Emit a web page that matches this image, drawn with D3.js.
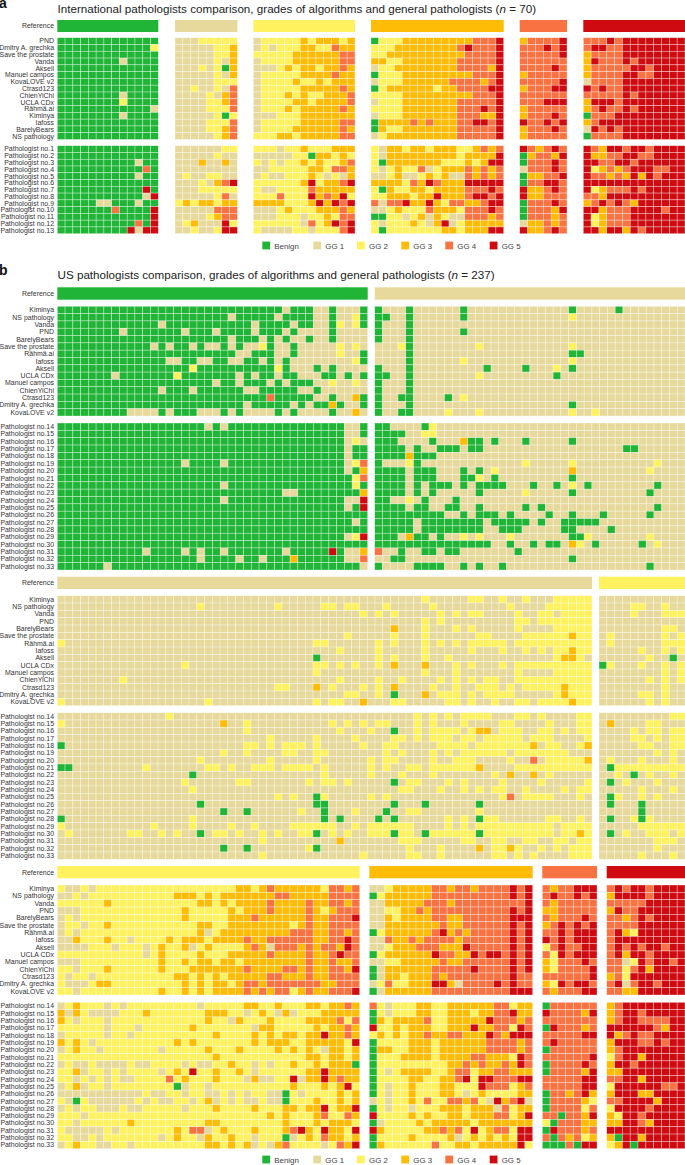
<!DOCTYPE html>
<html><head><meta charset="utf-8">
<script src="https://cdn.jsdelivr.net/npm/d3@7"></script>
<style>html,body{margin:0;padding:0;background:#fff}svg{display:block}text{font-family:"Liberation Sans",Arial,sans-serif}</style>
</head><body><svg id="c" width="685" height="1165"></svg>
<script>
const grades = ["Benign","GG 1","GG 2","GG 3","GG 4","GG 5"];
const gradeColors = ["#20b536","#e6d99b","#fff25e","#ffbc06","#f97241","#cf0a10"];
const algosA = ["PND","Dmitry A. grechka","Save the prostate","Vanda","Aksell","Manuel campos","KovaLOVE v2","Ctrasd123","ChienYiChi","UCLA CDx","Rähmä.ai","Kiminya","Iafoss","BarelyBears","NS pathology"];
const pathsA = d3.range(1,14).map(i=>"Pathologist no."+i);
const algosB = ["Kiminya","NS pathology","Vanda","PND","BarelyBears","Save the prostate","Rähmä.ai","Iafoss","Aksell","UCLA CDx","Manuel campos","ChienYiChi","Ctrasd123","Dmitry A. grechka","KovaLOVE v2"];
const pathsB = d3.range(14,34).map(i=>"Pathologist no."+i);

const aBenign = ["0000000000000","0000000000002","0000000000000","0000000010000","0000000000000","0000000000000","0000000000000","0000000000000","0000000010000","0000000020000","0000000000001","0000000010000","0000000000000","0000000000000","0000000000000",
"0000000000000","0000000000000","0000000000100","0000000000040","0000000000100","0000000000000","0000000000050","0000000000015","0000011000100","0000000400005","0000000000005","0000000000405","0000000005155"];
const aGG1 = ["11122222","11111223","11111223","11111213","11121203","11111213","11111222","11211214","11112134","11112234","11112224","11111202","11112224","11112234","11111234",
"11111122","11111211","11131131","11111111","12112211","11121345","11122222","11111241","23233233","11111444","11112344","12311152","11211255"];
const aGG2 = ["1222223233323","1212223322433","2222233333344","1222233333344","1112323323343","1222223333433","1222232232333","1222223333343","1222323223334","1222233233334","1222323333343","1112223333333","1222223333344","1222233333343","2223323333344",
"2221223222333","1111122033232","2121223232234","1122222332443","1211222321213","2222223523345","2112222433333","2224222534352","3333222353545","1112322233343","1112221223244","2222221423545","2111122122245"];
const aGG3 = ["02223333333334445","22233333333454445","22333333333344445","33223333333444445","12233333333444435","02223333333334445","12223333334444345","02333333233444455","22223333333334445","12223333333444445","22223333333444545","12223333333444335","03333434333445545","03223333333444445","12333333333444445",
"21332332333223434","21333333333233335","20333333322232355","21232241233343434","11231123231143434","33332435433355555","20322332333344454","22333233533345545","41445335324433455","11232224333244454","00221231321144434","21222321351233333","20222222233233355"];
const aGG4 = ["344445","444545","444445","444444","444454","344444","444445","344455","444444","444555","344444","344454","544545","344454","344444",
"543454","034435","044454","144454","033445","044554","533454","533444","044454","044435","044434","133434","533454"];
const aGG5 = ["4445455555555","4554455555555","3444455555555","3544454555555","3444445545555","3444455445555","1444455555555","5454455555555","4444454555555","3555455555555","3454454555555","0444555555555","3455555555555","1545455555555","0444455555555",
"5435545545555","5334455445555","5544554555555","5234345554455","5443435354555","5555555555555","5234445455555","4435555555555","3454543555555","5534445555455","5234445555555","5234445555555","5535535455555"];

const bBenign = [
"0000000000 0000000000 0000000001 0001101110","0000000000 0000000000 0010000010 0001101120","0000000000 0001000000 0000010000 1001102120","0000000010 0000001000 1000010001 0111101111","0000000000 0000000000 0010001010 1101101111",
"0000000000 0010100101 1010112011 0111112121","0000000000 0000000000 0001100011 0111112110","0000000000 0000110011 0011001010 1111111120","0000000000 0000000200 0000000020 1110101111","0000000100 0000020000 0001010010 0111001010",
"0000000000 0000000000 1001000101 0001121121","0000000000 0001000100 0000110000 0110111111","0000000000 0000000000 0000000400 0001101130","0000000000 0000000000 0000100000 1010030110","0000000001 1110100011 1010111101 0111101131",
"0000000000 0000000001 0100000000 0000000110","0000000000 0000000000 0000000000 0000000110","0000000000 0000000000 0000000000 0000000121","0000000000 0000000000 0000000000 0000000100","0000000000 0000000000 0000000000 0000000100",
"0000000000 0000001000 0100000000 0000000124","0000000000 0000000000 0000000000 0000000103","0000000000 0000000000 0000000000 0000000024","0000000000 0000000000 0100000000 0000000020","0000000000 0000000000 0000000001 1000000003",
"0000000000 0000000000 0100000000 0000000115","0000000000 0000000000 0000000000 0000000105","0000000000 0000000000 0000000000 0000000000","0000000000 0000000000 0000000000 0000000010","0000000000 0000000000 0000000000 0000000000",
"0000000000 0000000000 0000000000 0000000125","0000000000 0000000000 0000000000 0000000000","0000000000 0100001010 0100000001 0000050113","0000000000 0000000010 0001001000 3000000114","0000001000 0000000000 0000000000 0000000001"];

const bGG1a = [
"0111011111 1011111111 1111101111 1011111111","0011011111 1011111111 1111121111 1111111111","0111011111 1111111111 1111111111 1111111111","0111011111 1011111111 1111111111 1111111111","0111011111 1111111111 1111111111 1111111111",
"1112011111 1112111111 1111121111 1111111111","1111011111 1111111111 1111100111 1111111111","1111011111 1211111111 1111121111 1111111111","0111011111 1111011110 1112101111 1111111111","0011011111 1112111111 1110111111 1111111111",
"0111011111 1111111111 1111111111 1111111111","0111011111 1111111111 1111111111 1111111111","0110011110 1211111111 1111111111 1111111111","0111011111 1111111111 1111101111 1111111111","0110011112 1112111111 1111121121 1111111111",
"0011110211 1111111111 1111111111 1111111111","0000112211 1111111111 1111111111 1111111111","0001111011 1300101110 1111101111 1111111111","0000101100 0100111111 1111111111 1100111111","0000300011 1111111111 1111111111 1111111111",
"0111201111 1111111112 1111121111 1111112111","0000100011 1010121111 1111131111 1111121111","0000100011 1002101111 1111101111 1111111111","0000101000 1010000111 0110121011 1111110111","0000101011 1110111112 1111101111 1111101111",
"0011210111 0111111111 1111111111 1111111111","0000100110 0110111110 1011111111 1111110111","0000000001 1010001011 1101101110 1111101111","0000010000 0000100000 1011000001 1111111111","0000010000 0000110001 1111001111 0111111111",
"0001300101 1212111211 1111100211 1111121111","0000000000 0000011011 0100132101 1111012111","4110110010 0111111101 1111111111 1111111111","1100111111 1111111111 1111101111 1111111111","0111100001 1010110111 1111111111 1111101111"];

const o10 = "1111111111";
const bGG1b = [
[o10,o10,o10,o10,"1111111211","1112211211","211122222"],
[o10,"1111111121","1111111121","1111221221","1121111121","1111111121","111222222"],
[o10,o10,o10,"1111111112","1212111112","1212211112","112212222"],
[o10,o10,o10,o10,"1111111212","1111111112","212222222"],
[o10,o10,o10,o10,"1113111211","1212111112","111122222"],
[o10,o10,o10,"1111111211","1112111211","1111221111","222222322"],
["2111111111",o10,o10,"1112211111","1212111212","1212222212","222222222"],
[o10,o10,o10,"1111112111","1211111211","1112111211","212122322"],
[o10,o10,o10,"1110111111","1212111211","2111111111","111123321"],
[o10,"1111112111",o10,"1112212121","1213111311","1212111212","222222222"],
[o10,o10,o10,"1112111111","1111111211","1211111112","111122222"],
["1111111121",o10,o10,"1111112111","1211211112","1212122112","222222222"],
[o10,o10,"1111111122","1113121112","1213111121","1211222121","222223222"],
[o10,o10,o10,"1111111221","1210111312","2212122221","111123222"],
["2111111111","1111111112",o10,"1112122113","1112211111","2212112112","212222322"],
[o10,"1111211111",o10,o10,"1111112121","2122221112","212111122"],
["2111111111",o10,"1311211111","1111121212","1221112121","1121111221","111211122"],
[o10,o10,"1111211111","1111112111","2110112122","2212331222","112212122"],
[o10,o10,"1111111211","1112111121","1112212122","2122122222","122211112"],
["0111111111",o10,"1111221212","2212111112","1122111112","2221222222","231221123"],
[o10,o10,"1211211112","2112211111","1121211121","2122222212","222222111"],
[o10,"1111111121","1111111211","1112111111","2122111121","1222111121","141222223"],
["0011111111","1211111112","2121122212","2221211111","2121122122","2222311112","222222222"],
[o10,"1111111011",o10,"1111211111","2111211121","1111112131","131211111"],
[o10,"1111112111","1112211111","1121221211","1110122111","2121111211","112111112"],
[o10,"1111111211",o10,o10,"1111221112","1121212211","211112122"],
[o10,o10,"1111111121","2110211111","2121111111","1111111241","222211121"],
[o10,"1111111101",o10,"1110011111","1110111011","1111011111","111111111"],
[o10,o10,"1011011111","1211011121","1101122111","1111211111","111111111"],
["0111111111","1111111211",o10,"1111010111","1010111111","2121022111","111221121"],
["2111111111","1121111211","1121121111","2222221121","2222221111","2121222222","222212222"],
["1211111112","2112121101","2212112121","1220121211","2220221022","2222022222","222212232"],
[o10,o10,"1111112111","1111113111","1111222111","1122112211","221122122"],
[o10,o10,"1011011111","1120111111","1111121112","1111312232","112121222"],
[o10,o10,"1111112111","1111111112","1111122112","1111112212","121111222"]
].map(r=>r.join(""));

const bGG2a = ["11111111111","11112211211","11112111222","11111111111","11111111221","12111111212","12111111222","11111211212","11111121101","02111211212","11111111212","11111121212","11111111211","11111221211","11111121211",
"11111111122","13111122111","11112122122","11112212122","11111221122","11111112121","12111211121","10222222222","11210121121","10121112111","11111211121","10211212111","10111011111","11111011111","10112021111","11111222222","10121122212","11111112221","11111112111","11111211121"];

const t10 = "2222222222";
const bGG2b = [
["2112122222",t10,"2223323433","333324434"],
["1121222222","2222233323","2333333344","333334444"],
["2222223222","2222222233","2323333433","334334434"],
["1112222222","2222223222","2232333433","334323444"],
["1212222222","2222223222","2233343333","334334445"],
["1221223222","2222222233","2233333333","234334444"],
["1212222222","2222222231","2333333333","444334434"],
["1132223221","2222323332","3333433444","444334454"],
["1111222122","2123223123","2222343144","434344354"],
[t10,"2123222232","2233333433","334334544"],
["1112222222","2223223233","2332333333","334334334"],
["2212223222","2223222333","3333433334","434334435"],
["2122122222","2222233232","3233333443","334334444"],
["2111233222","2222223232","3323443444","444433444"],
["2212222222","2223223232","3333434344","234334445"],
["1232221212","2222222212","2222332232","223323343"],
["3132111122","2322222223","3322123213","122233333"],
["3212221222","2222222223","2213222322","223333424"],
["2222221222","1222222322","2222213322","222323343"],
["1222221221",t10,"3222232323","323353343"],
["3232122222","2222232322","2222232333","223333325"],
["1232212222","2221222223","2223222232","323213323"],
[t10,t10,"3222222222","223323323"],
["1211211112","1122221211","2232212122","322323330"],
["2231221212","2221232522","3223212222","223353333"],
["2212121211","2222423222","3222131122","513353433"],
["1231221222","2222201221",t10,"322232352"],
["1111111111","1211221221","1212122110","212222323"],
["2102111111","2121122123","1212112110","222322323"],
["1212211121","1222221222","3222232223","323352335"],
["2221222222",t10,"2222222323","222342243"],
["2212222223","2222222223","3222222223","222323332"],
["2111112122","2222232441","2322232223","453253325"],
["2211212222","2221232213","2232212220","123243323"],
["1232211221","2222222223","3232312134","222212435"]
].map(r=>r.join(""));

const bGG3 = ["1123333344 3443444454 5","0233333344 4444444454 5","1133333444 3444444444 5","1122334344 4444444454 5","1132333344 3344444455 5","1133333334 3344444454 5","0233333345 3434444454 5","1143343444 4344444454 5","1123334443 3354444454 5","0233333354 4335455454 5","1122333334 3344444454 5","0133333344 4445444454 5","0133233343 4444444454 4","1242233355 3144445454 4","0133333344 4444444455 5",
"4212223322 3333334423 3","0212223322 3332334453 3","0323333422 3333354443 4","5223233322 3335334425 4","2323233433 4433354355 5","0222233323 3333344443 4","0332233323 3333344443 4","0222333323 3334433325 4","0222222222 3343433435 4","0212333322 3442334433 3","0222233223 3452554445 5","0212232223 3222544423 4","0212232223 3212322223 3","1212232422 4434215345 1","0212212223 3323331423 3","5222232322 3323334423 5","0122223233 3332333333 3","5322222334 3425234425 5","0222232222 3123232325 5","0322222242 2332333335 2"];
const bGG4 = ["4344555","4544545","4344444","3344444","4344454","3454545","4454555","5454555","2454455","4254555","3244454","3244445","4444445","3254554","4344455",
"0444444","5444435","4444444","0544434","4444455","4544444","0444444","4444445","0444454","0444435","4444455","4444455","0443453","0444432","0444424","4404435","2044433","0544434","4043423","0004055"];
const bGG5 = ["4545545555","3555545555","4444455555","3544555555","4434545555","4444555555","4532555555","4555555555","4545455455","4535545555","4412545545","4424535555","3425555555","4514554555","4433555555",
"3455555555","3455455555","3455444455","5555554355","5345445555","3555445455","3455555555","2455355555","3554555555","3355555555","4455355555","2555555445","3555335555","4455553555","2555545555","3255455555","3355435555","5555555555","3055355555","2350555555"];

const svg = d3.select("#c");
const color = d3.scaleOrdinal().domain(d3.range(6)).range(gradeColors);

function block(data, ref, x0, x1, refY, uY, lY, nU){
  const clean = data.map(s=>s.replace(/\s/g,""));
  const nc = clean[0].length;
  const x = d3.scaleBand().domain(d3.range(nc)).range([x0,x1]);
  const yU = d3.scaleBand().domain(d3.range(nU)).range(uY);
  const yL = d3.scaleBand().domain(d3.range(clean.length-nU)).range(lY);
  const g = svg.append("g");
  g.append("rect").attr("x",x0).attr("y",refY[0]).attr("width",x1-x0).attr("height",refY[1]-refY[0])
    .attr("fill",color(ref));
  clean.forEach((s,r)=>{
    const top = r<nU ? yU(r) : yL(r-nU), h = r<nU ? yU.bandwidth() : yL.bandwidth();
    g.append("g").selectAll("rect").data(s.split("").map(Number)).join("rect")
      .attr("x",(d,i)=>x(i)).attr("y",top).attr("width",x.bandwidth()).attr("height",h)
      .attr("fill",d=>color(d)).attr("stroke","#fff").attr("stroke-opacity",.55).attr("stroke-width",.6);
  });
}
function labels(names, y0, y1){
  const y = d3.scaleBand().domain(names).range([y0,y1]);
  svg.append("g").selectAll("text").data(names).join("text")
    .attr("x",54).attr("y",d=>y(d)+y.bandwidth()/2+2.4).attr("text-anchor","end")
    .attr("font-size",6.95).attr("fill","#333").text(d=>d);
}
function refLabel(y){ svg.append("text").attr("x",54).attr("y",y).attr("text-anchor","end").attr("font-size",6.95).attr("fill","#333").text("Reference"); }
function legend(y){
  const xs = [262.3,313.3,357,401.3,445.3,489.7];
  const g = svg.append("g").selectAll("g").data(grades).join("g").attr("transform",(d,i)=>`translate(${xs[i]},${y})`);
  g.append("rect").attr("width",7.8).attr("height",7.8).attr("fill",(d,i)=>color(i));
  g.append("text").attr("x",12).attr("y",6.9).attr("font-size",7.9).attr("fill","#444").text(d=>d);
}
function title(y,txt,n){
  const t = svg.append("text").attr("x",57.5).attr("y",y).attr("font-size",11.65).attr("fill","#222");
  t.append("tspan").text(txt+" (");
  t.append("tspan").attr("font-style","italic").text("n");
  t.append("tspan").text(" = "+n+")");
}
// panel a
const aR=[20,32], aU=[37.7,139.5], aL=[145.7,233.7];
[[aBenign,0,57.3,158.3],[aGG1,1,175,237.4],[aGG2,2,253.3,355],[aGG3,3,371,503.7],[aGG4,4,519.7,567],[aGG5,5,583.3,685]]
  .forEach(([d,r,a,b])=>block(d,r,a,b,aR,aU,aL,15));
refLabel(28.4); labels(algosA,aU[0],aU[1]); labels(pathsA,aL[0],aL[1]); legend(241.6);
title(12.8,"International pathologists comparison, grades of algorithms and general pathologists",70);
svg.append("text").attr("x",-1).attr("y",8).attr("font-size",14).attr("font-weight","bold").attr("fill","#111").text("a");
svg.append("text").attr("x",-1).attr("y",275).attr("font-size",14).attr("font-weight","bold").attr("fill","#111").text("b");
title(279,"US pathologists comparison, grades of algorithms and general pathologists",237);
// panel b rows
const r1=[[287.3,299.7],[306.3,416],[423,570]], r2=[[576.7,589],[595.7,705.7],[712.7,859.3]], r3=[[866,878.3],[885,995],[1002.3,1148.7]];
block(bBenign,0,57.3,367.7,...r1,15); block(bGG1a,1,374.7,685,...r1,15);
block(bGG1b,1,57.3,592,...r2,15); block(bGG2a,2,599,685,...r2,15);
block(bGG2b,2,57.3,359.7,...r3,15); block(bGG3,3,369.3,532.7,...r3,15); block(bGG4,4,542.3,597,...r3,15); block(bGG5,5,606.7,685,...r3,15);
[r1,r2,r3].forEach(r=>{ refLabel((r[0][0]+r[0][1])/2+2.4); labels(algosB,r[1][0],r[1][1]); labels(pathsB,r[2][0],r[2][1]); });
legend(1155.6);
</script></body></html>
